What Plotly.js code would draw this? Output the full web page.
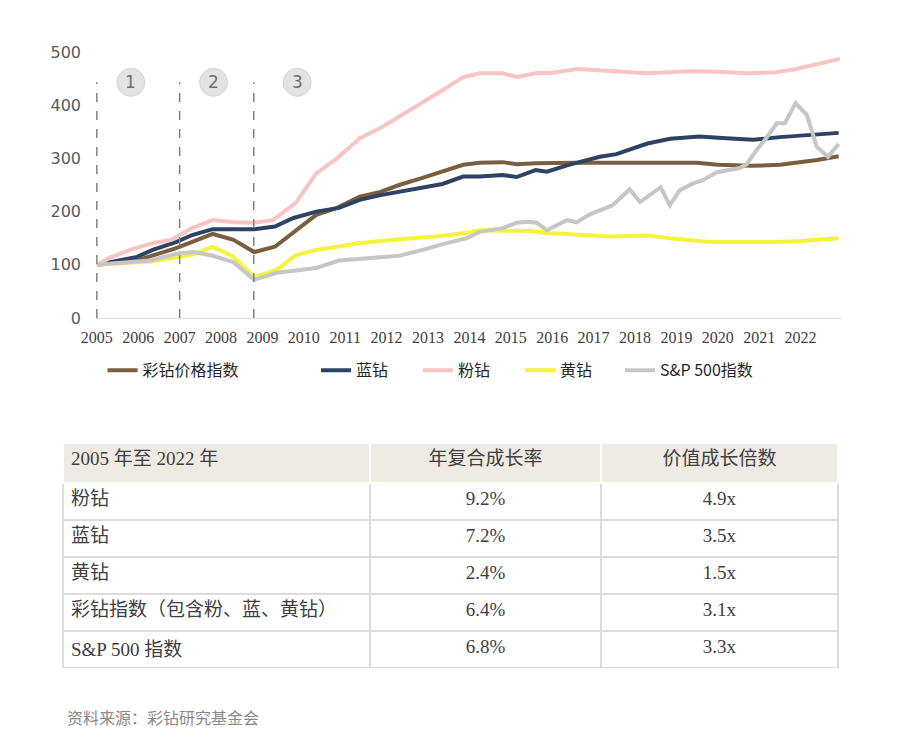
<!DOCTYPE html>
<html>
<head>
<meta charset="utf-8">
<script src="https://cdn.plot.ly/plotly-3.0.1.min.js"></script>
<style>
html,body{margin:0;padding:0;background:#fff;}
#chart{width:900px;height:746px;}
</style>
</head>
<body>
<div id="chart"></div>
<script>
// ---- data ----
const tickYears = [2005,2006,2007,2008,2009,2010,2011,2012,2013,2014,2015,2016,2017,2018,2019,2020,2021,2022];
const tickLabels = tickYears.map(String);
const yTicks = [0,100,200,300,400,500];

const seriesNames = ['彩钻价格指数','蓝钻','粉钻','黄钻','S&P 500指数'];

const brownX = [2005,2006.0,2006.9,2007.4,2007.8,2008.3,2008.8,2009.3,2009.75,2010.3,2010.8,2011.35,2011.85,2012.3,2012.85,2013.35,2013.85,2014.25,2014.8,2015.15,2015.6,2016.5,2017.5,2018.5,2019.5,2020.0,2020.8,2021.5,2022.0,2022.4,2022.92];
const brownY = [100,109,131,147,158,147,124,134,161,194,207,228,237,250,263,275,288,292,293,289,291,292,292,292,292,288,286,288,292,297,304];

const navyX = [2005,2005.6,2005.97,2006.35,2006.93,2007.3,2007.8,2008.8,2009.3,2009.75,2010.3,2010.85,2011.35,2011.85,2012.3,2012.85,2013.35,2013.85,2014.25,2014.8,2015.14,2015.6,2015.87,2016.4,2016.9,2017.15,2017.55,2017.87,2018.3,2018.85,2019.55,2020.2,2020.85,2021.5,2022.0,2022.92];
const navyY = [100,110,115,128,143,156,167,167,172,188,200,207,222,231,237,244,252,266,266,269,265,278,275,288,298,303,308,317,328,337,341,338,335,340,343,348];

const pinkX = [2005,2005.3,2005.8,2006.35,2006.8,2007.3,2007.8,2008.3,2008.8,2009.25,2009.8,2010.3,2010.8,2011.35,2011.85,2012.3,2012.87,2013.35,2013.85,2014.25,2014.8,2015.15,2015.6,2016.0,2016.6,2017.5,2018.3,2019.3,2020.0,2020.7,2021.4,2021.9,2022.4,2022.95];
const pinkY = [100,113,128,141,147,169,184,180,179,184,216,272,300,338,357,378,404,428,453,460,460,453,460,461,468,464,460,464,463,460,462,468,477,487];

const yellowX = [2005,2005.6,2006.3,2007.0,2007.35,2007.8,2008.3,2008.8,2009.35,2009.8,2010.3,2010.8,2011.35,2012.3,2013.3,2013.9,2014.25,2014.8,2015.4,2015.9,2016.6,2017.4,2018.3,2018.84,2019.8,2020.5,2021.4,2022.0,2022.92];
const yellowY = [100,103,106,115,120,134,115,77,91,118,128,134,141,148,154,160,165,164,164,160,156,153,155,150,143,143,143,145,150];

const greyX = [2005,2005.6,2006.28,2006.7,2007.0,2007.35,2007.8,2008.3,2008.8,2009.35,2009.75,2010.3,2010.85,2011.85,2012.3,2012.87,2013.36,2013.94,2014.25,2014.8,2015.14,2015.41,2015.63,2015.87,2016.35,2016.59,2016.91,2017.46,2017.87,2018.12,2018.62,2018.84,2019.08,2019.4,2019.64,2019.98,2020.53,2020.7,2020.94,2021.14,2021.43,2021.62,2021.88,2022.15,2022.39,2022.66,2022.92];
const greyY = [100,103,108,116,122,124,117,105,72,85,89,94,108,113,117,128,139,150,162,169,179,181,179,165,184,180,195,212,242,218,246,212,240,253,259,274,282,289,316,335,366,366,404,382,322,303,327];

const phaseLines = [2005, 2007, 2008.79];
const phaseLabels = ['1','2','3'];
const phaseLabelX = [2005.82, 2007.82, 2009.84];

const tableHeader = ['2005 年至 2022 年','年复合成长率','价值成长倍数'];
const tableNames = ['粉钻','蓝钻','黄钻','彩钻指数（包含粉、蓝、黄钻）','S&P 500 指数'];
const tableCagr = ['9.2%','7.2%','2.4%','6.4%','6.8%'];
const tableMultiple = ['4.9x','3.5x','1.5x','3.1x','3.3x'];

const sourceText = '资料来源：彩钻研究基金会';

// ---- styling ----
const colors = ['#7a5f3e','#2e4363','#f9c4c4','#f6f43a','#c6c6c6'];
const xs = [brownX, navyX, pinkX, yellowX, greyX];
const ys = [brownY, navyY, pinkY, yellowY, greyY];
const legendIds = ['legend','legend2','legend3','legend4','legend5'];
const legendLeft = [0.0543, 0.3270, 0.4572, 0.5875, 0.7152];

const CJK = '"Noto Sans CJK SC", sans-serif';
const SERIF = '"Liberation Serif", "Noto Sans CJK SC", serif';

const traces = seriesNames.map((n, i) => ({
  type: 'scatter', mode: 'lines', name: n, x: xs[i], y: ys[i],
  line: {color: colors[i], width: 4},
  hoverinfo: 'skip',
  legend: legendIds[i]
}));

traces.push({
  type: 'table',
  domain: {x: [0.0038, 0.9936], y: [0.0284, 0.3833]},
  columnwidth: [307, 231, 237],
  header: {
    values: tableHeader,
    align: ['left','center','center'],
    height: 40,
    fill: {color: '#eeeae4'},
    line: {color: '#ffffff', width: 2},
    font: {family: SERIF, size: 19, color: '#404040'}
  },
  cells: {
    values: [tableNames, tableCagr, tableMultiple],
    align: ['left','center','center'],
    height: 37,
    fill: {color: '#ffffff'},
    line: {color: '#dcdcdc', width: 2},
    font: {family: SERIF, size: 19, color: '#404040'}
  }
});

const shapes = phaseLines.map(x => ({
  type: 'line', xref: 'x', yref: 'y', x0: x, x1: x, y0: 0, y1: 443,
  line: {color: '#808080', width: 1.5, dash: 'dash'}, layer: 'above'
}));
phaseLabelX.forEach(x => shapes.push({
  type: 'circle', xref: 'x', yref: 'y', xsizemode: 'pixel', ysizemode: 'pixel',
  xanchor: x, yanchor: 443, x0: -14, x1: 14, y0: -14, y1: 14,
  fillcolor: '#e3e3e3', line: {color: '#d6d6d6', width: 1}
}));

const annotations = phaseLabelX.map((x, i) => ({
  xref: 'x', yref: 'y', x: x, y: 443, text: phaseLabels[i], showarrow: false,
  font: {family: '"DejaVu Sans", sans-serif', size: 17, color: '#707070'}
}));
annotations.push({
  xref: 'paper', yref: 'paper', x: 0.0064, y: -0.0489, xanchor: 'left', yanchor: 'middle',
  text: sourceText, showarrow: false,
  font: {family: '"Noto Sans CJK SC", serif', size: 16, color: '#8a8a8a'}
});

const layout = {
  width: 900, height: 746,
  margin: {l: 60, r: 57, t: 52, b: 60},
  paper_bgcolor: '#ffffff', plot_bgcolor: '#ffffff',
  showlegend: true,
  font: {family: CJK},
  xaxis: {
    domain: [0.046, 0.9987],
    range: [2004.98, 2023],
    tickmode: 'array', tickvals: tickYears, ticktext: tickLabels,
    showgrid: false, zeroline: false,
    showline: true, linecolor: '#d9d9d9', linewidth: 1,
    ticks: '', ticklabelstandoff: 5,
    tickfont: {family: '"Liberation Serif", serif', size: 16, color: '#404040'}
  },
  yaxis: {
    domain: [0.5804, 1],
    range: [0, 500],
    tickmode: 'array', tickvals: yTicks,
    showgrid: false, zeroline: false, showline: false,
    ticks: '', ticklabelstandoff: 14,
    tickfont: {family: '"DejaVu Sans", sans-serif', size: 16, color: '#5a5a5a'}
  },
  shapes: shapes,
  annotations: annotations
};

legendIds.forEach((id, i) => {
  layout[id] = {
    orientation: 'h', x: legendLeft[i], xanchor: 'left', y: 0.498, yanchor: 'middle',
    font: {family: CJK, size: 16, color: '#262626'}, bgcolor: 'rgba(0,0,0,0)'
  };
});

Plotly.newPlot('chart', traces, layout, {displayModeBar: false, staticPlot: true});
</script>
</body>
</html>
